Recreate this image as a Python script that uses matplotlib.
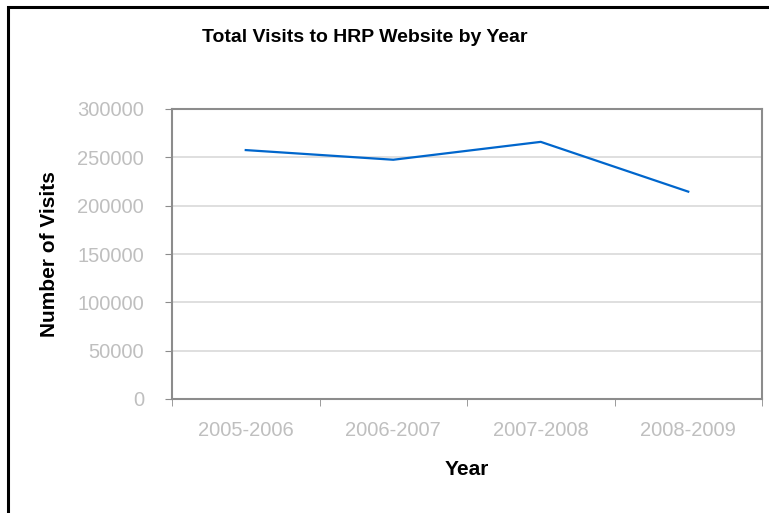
import matplotlib
matplotlib.use("Agg")
import matplotlib.pyplot as plt
from matplotlib.patches import Rectangle

plt.rcParams['font.family'] = ['Liberation Sans', 'DejaVu Sans']

years = ['2005-2006', '2006-2007', '2007-2008', '2008-2009']
visits = [257500, 247500, 266000, 214500]
yticks = [0, 50000, 100000, 150000, 200000, 250000, 300000]

fig = plt.figure(figsize=(7.69, 5.13), dpi=100)
ax = fig.add_axes([172/769, 1 - 399/513, (762 - 172)/769, (399 - 109)/513])

x = list(range(len(years)))
ax.plot(x, visits, color='#0066cc', lw=1.6)

ax.set_xlim(-0.5, len(years) - 0.5)
ax.set_ylim(0, 300000)
ax.set_yticks(yticks)
ax.set_yticklabels([str(v) for v in yticks])
ax.set_xticks(x)
ax.set_xticklabels(years)
ax.set_xticks([i - 0.5 for i in range(len(years) + 1)], minor=True)

ax.grid(axis='y', color='#d9d9d9', lw=1.2)
ax.set_axisbelow(True)
for s in ax.spines.values():
    s.set_color('#8c8c8c')
    s.set_linewidth(1.5)

ax.tick_params(axis='y', colors='#8c8c8c', labelcolor='#bfbfbf', labelsize=14.5,
               length=5, direction='out', pad=15)
ax.tick_params(axis='x', which='major', length=0, labelcolor='#bfbfbf', labelsize=14.5, pad=16)
ax.tick_params(axis='x', which='minor', colors='#8c8c8c', length=5, direction='out')

ax.set_ylabel('Number of Visits', fontsize=15, fontweight='bold', labelpad=13)
ax.set_xlabel('Year', fontsize=15, fontweight='bold', labelpad=14)
fig.text(365/769, 1 - 38/513, 'Total Visits to HRP Website by Year',
         ha='center', va='center', fontsize=14, fontweight='bold')

# outer chart frame (cut off at right and bottom)
fig.patches.append(Rectangle((8/769, -0.1), 1.2, 1.1 - 7/513, transform=fig.transFigure,
                             fill=False, edgecolor='black', lw=2.2))

fig.savefig('out.png', dpi=100)
